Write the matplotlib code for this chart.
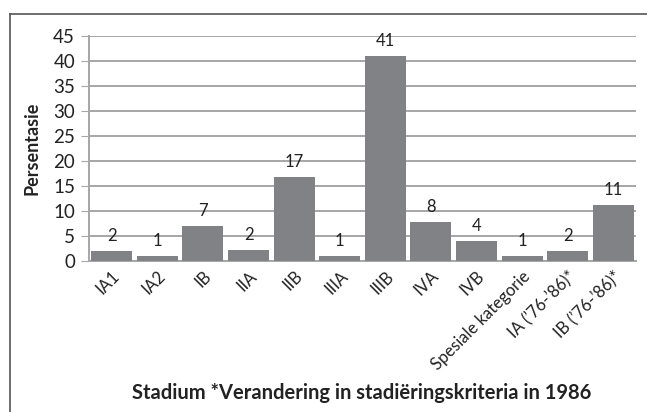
import matplotlib.pyplot as plt
from matplotlib.lines import Line2D

plt.rcParams['font.family'] = ['Lato', 'DejaVu Sans']

categories = ["IA1", "IA2", "IB", "IIA", "IIB", "IIIA", "IIIB", "IVA", "IVB",
              "Spesiale kategorie", "IA (\u201976-\u201986)*", "IB (\u201976-\u201986)*"]
values = [2.0, 1.0, 7.0, 2.2, 16.8, 1.0, 41.0, 7.8, 4.0, 1.0, 2.0, 11.2]
value_labels = ["2", "1", "7", "2", "17", "1", "41", "8", "4", "1", "2", "11"]

W, H = 647, 412
fig = plt.figure(figsize=(W / 100, H / 100), dpi=100)
ax = fig.add_axes([89 / W, 1 - 261 / H, (636 - 89) / W, (261 - 36) / H])

x = range(len(categories))
bars = ax.bar(x, values, width=0.9, color="#808285", zorder=3)
for b, lab in zip(bars, value_labels):
    ax.text(b.get_x() + b.get_width() / 2, b.get_height() + 3.0, lab,
            ha="center", va="center", fontsize=12, color="#222222", zorder=4)

ax.set_xlim(-0.5, len(categories) - 0.5)
ax.set_ylim(0, 45)
ax.set_yticks(range(0, 46, 5))
ax.yaxis.grid(True, color="#a6a6a6", linewidth=1.4, zorder=0)
ax.set_axisbelow(True)

for s in ["top", "right"]:
    ax.spines[s].set_visible(False)
ax.spines["left"].set_color("#a6a6a6")
ax.spines["bottom"].set_color("#a6a6a6")
ax.spines["left"].set_linewidth(1.4)
ax.spines["bottom"].set_linewidth(1.4)

ax.set_xticks(list(x))
ax.set_xticklabels(categories, rotation=45, ha="right", rotation_mode="anchor",
                   fontsize=12, color="#222222")
ax.tick_params(axis="x", length=0, pad=5)
ax.tick_params(axis="y", length=6, color="#a6a6a6", labelsize=13.5,
               labelcolor="#222222", pad=4)

ax.set_ylabel("Persentasie", fontsize=13, fontweight="bold", color="#222222", va="center")
ax.yaxis.set_label_coords((32 - 89) / (636 - 89), 0.5)
fig.text(362 / W, 1 - 399 / H, "Stadium *Verandering in stadi\u00ebringskriteria in 1986",
         ha="center", va="baseline", fontsize=14.5, fontweight="bold", color="#222222")

# outer frame
fig.add_artist(Line2D([10 / W, 1], [1 - 14 / H, 1 - 14 / H], transform=fig.transFigure,
                      color="#555555", linewidth=1.2))
fig.add_artist(Line2D([10 / W, 10 / W], [0, 1 - 14 / H], transform=fig.transFigure,
                      color="#555555", linewidth=1.2))

fig.savefig("out.png", dpi=100)
